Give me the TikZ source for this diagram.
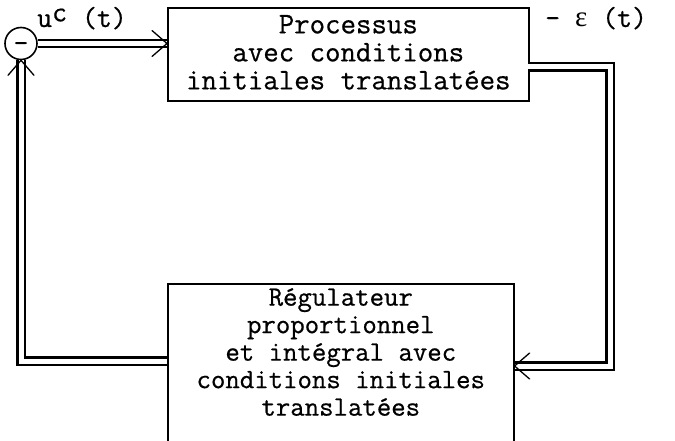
\documentclass[tikz,border=0pt]{standalone}
\usepackage{fontspec}
\setmonofont{Latin Modern Mono}[FakeBold=0.6]
\newfontfamily\greekfont{Liberation Serif}
\usetikzlibrary{calc}
\tikzset{
  box/.style={draw, line width=1.6pt, inner sep=0pt},
  label/.style={font=\ttfamily\fontsize{29}{28}\selectfont, inner sep=0pt},
  boxtext/.style={font=\ttfamily\fontsize{30}{28}\selectfont, inner sep=0pt, align=center},
  regtext/.style={font=\ttfamily\fontsize{28}{27.5}\selectfont, inner sep=0pt, align=center},
  dbl/.style={draw, line width=2.3pt, double=white, double distance=5pt},
  chev/.style={draw, line width=1.3pt, line cap=round, line join=miter},
}
\begin{document}
\begin{tikzpicture}[x=1pt, y=-1pt]
\clip (0,0) rectangle (675,441);
\useasboundingbox (0,0) rectangle (675,441);

% process block
\node[box, minimum width=361pt, minimum height=93pt, anchor=north west] (proc) at (167,7) {};
\node[boxtext] (proctxt) at ($(proc.center)+(0,-2)$) {Processus\\avec conditions\\initiales translatées};

% controller block (runs off the bottom of the page)
\node[box, minimum width=346pt, minimum height=200pt, anchor=north west] (reg) at (167,283) {};
\node[regtext, anchor=north] (regtxt) at ($(reg.north)+(0,5)$) {Régulateur\\proportionnel\\et intégral avec\\conditions initiales\\translatées};

% summing junction
\node[draw, circle, line width=1.6pt, minimum size=32pt, inner sep=0pt] (sum) at (21,43.5) {};
\node[label] (sign) at ($(sum.center)+(0,3.5)$) {-};

% junction -> process
\coordinate (pin) at (proc.west |- sum);
\draw[dbl] (sum.east) -- (pin);
\draw[chev] ($(pin)+(-15,-13)$) -- (pin) -- ($(pin)+(-15,13)$);

% process -> controller
\coordinate (pout) at (528,67);
\coordinate (rin) at (reg.east |- 0,366);
\coordinate (rc) at (610,0);
\draw[dbl] (pout) -- (rc |- pout) -- (rc |- rin) -- (rin);
\draw[chev] ($(rin)+(15,-13)$) -- (rin) -- ($(rin)+(15,13)$);

% controller -> junction
\coordinate (rout) at (reg.west |- 0,361);
\draw[dbl] (rout) -- (sum.south |- rout) -- (sum.south);
\draw[chev] ($(sum.south)+(-13,15)$) -- (sum.south) -- ($(sum.south)+(13,15)$);

% signal labels
\node[label, anchor=base west] (uc) at (37,27) {u\raisebox{0.45ex}{c} (t)};
\node[label, anchor=base west] (eps) at (545,27) {- {\greekfont ε} (t)};
\end{tikzpicture}
\end{document}
